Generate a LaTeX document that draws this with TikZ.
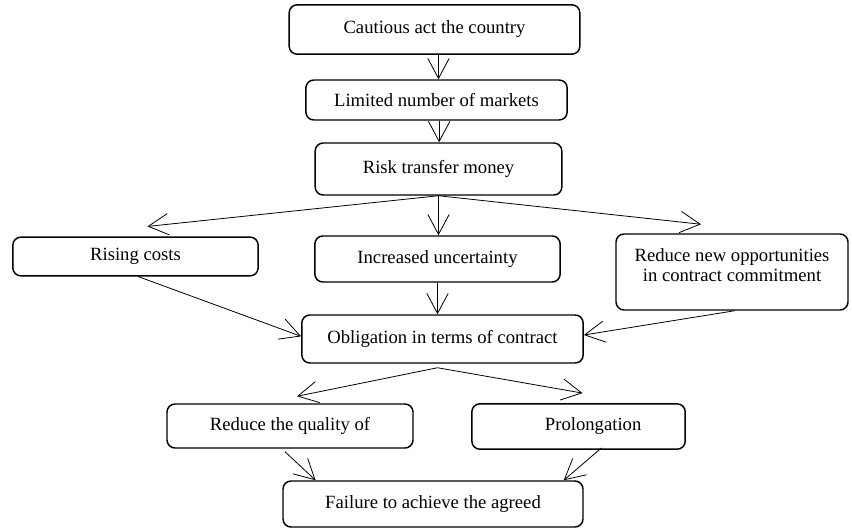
\documentclass[tikz,border=0pt]{standalone}
\usepackage{fontspec}
\setmainfont{Liberation Serif}
\usepackage{tikz}
\usetikzlibrary{arrows.meta,positioning,calc}

\begin{document}
\begin{tikzpicture}[
  x=0.75pt, y=-0.75pt,
  box/.style={draw=black, rounded corners=6pt, line width=1.1pt, align=center, inner sep=2pt, font=\fontsize{14}{15}\selectfont},
  arrow/.style={-{Straight Barb[length=15pt, width=16pt]}, line width=0.6pt, draw=black}
]
\useasboundingbox (0,0) rectangle (852,529);
\node[box, minimum width=218pt, minimum height=37pt] (cautious) at (434.5,29.5) {Cautious act the country};
\node[box, minimum width=196pt, minimum height=30pt] (markets) at (436.5,100) {Limited number of markets};
\node[box, minimum width=185pt, minimum height=39pt] (risk) at (438.5,169) {Risk transfer money};
\node[box, minimum width=184pt, minimum height=29pt] (costs) at (135.5,256.5) {Rising costs};
\node[box, minimum width=184pt, minimum height=34.5pt] (uncert) at (437.5,259) {Increased uncertainty};
\node[box, minimum width=174pt, minimum height=57pt] (newopp) at (732,272) {Reduce new opportunities\\in contract commitment\\[-5pt]};
\node[box, minimum width=211pt, minimum height=36pt] (oblig) at (442.5,339) {Obligation in terms of contract};
\node[box, minimum width=184.5pt, minimum height=33pt] (quality) at (290,426) {Reduce the quality of};
\node[box, minimum width=160pt, minimum height=34pt] (prolong) at (578.5,426.5) {\hspace*{22pt}Prolongation};
\node[box, minimum width=225pt, minimum height=34.5pt] (failure) at (433,504) {Failure to achieve the agreed};
% top chain
\draw[arrow] ([xshift=3pt]cautious.south) -- ([xshift=3pt]cautious.south |- markets.north);
\draw[arrow] ([xshift=2pt]markets.south) -- ([xshift=2pt]markets.south |- risk.north);
% fan out
\draw[arrow] (risk.south) -- ([shift={(12,-10)}]costs.north);
\draw[arrow] (risk.south) -- (risk.south |- uncert.north);
\draw[arrow] (risk.south) -- ([shift={(-31,-9)}]newopp.north);
% into obligation
\draw[arrow] ([xshift=2pt]costs.south) -- ([yshift=2pt]oblig.west);
\draw[arrow] (uncert.south) -- (uncert.south |- oblig.north);
\draw[arrow] ([xshift=2pt]newopp.south) -- ([yshift=3pt]oblig.east);
% second fan
\draw[arrow] ([shift={(-5,4)}]oblig.south) -- ([shift={(7,-7)}]quality.north);
\draw[arrow] ([shift={(-5,4)}]oblig.south) -- ([shift={(4,-10)}]prolong.north);
\draw[arrow] ([shift={(-5,3)}]quality.south) -- ([xshift=25pt]failure.north west);
\draw[arrow] ([shift={(23,-2)}]prolong.south) -- ([xshift=-15pt]failure.north east);
\end{tikzpicture}
\end{document}
